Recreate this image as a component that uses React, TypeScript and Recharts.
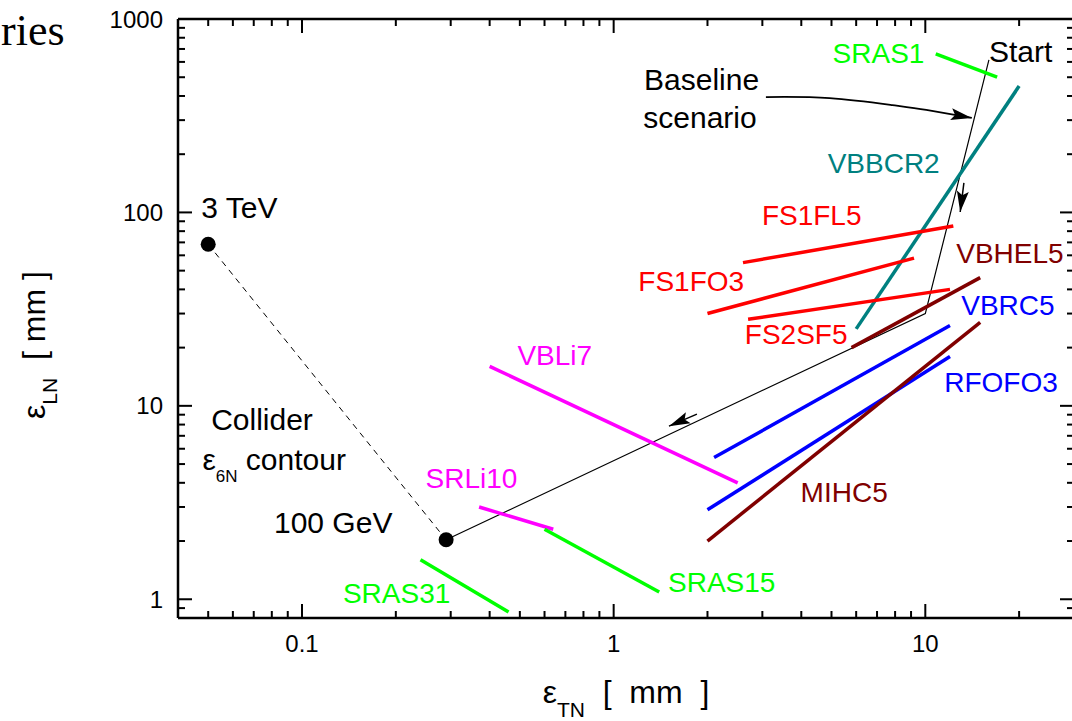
import React from 'react';
import { ComposedChart, Line, Scatter, XAxis, YAxis } from 'recharts';

const FONT = "'Liberation Sans', Arial, Helvetica, sans-serif";

// ---- tick values ----
const X_MAJOR = [0.1, 1, 10];
const X_TICKS = [0.05, 0.06, 0.07, 0.08, 0.09, 0.1, 0.2, 0.3, 0.4, 0.5, 0.6, 0.7, 0.8, 0.9, 1, 2, 3, 4, 5, 6, 7, 8, 9, 10, 20];
const Y_MAJOR = [1, 10, 100, 1000];
const Y_TICKS = [0.9, 1, 2, 3, 4, 5, 6, 7, 8, 9, 10, 20, 30, 40, 50, 60, 70, 80, 90, 100, 200, 300, 400, 500, 600, 700, 800, 900, 1000];

// ---- series (eps_TN, eps_LN) ----
const SRAS1 = [{ x: 10.8, y: 660 }, { x: 17, y: 500 }];
const VBBCR2 = [{ x: 6, y: 25 }, { x: 20, y: 450 }];
const FS1FL5 = [{ x: 2.6, y: 55 }, { x: 12.3, y: 85 }];
const FS1FO3 = [{ x: 2, y: 30 }, { x: 9.2, y: 58 }];
const FS2SF5 = [{ x: 2.7, y: 28 }, { x: 12, y: 40 }];
const VBHEL5 = [{ x: 5.8, y: 20 }, { x: 15, y: 46 }];
const VBRC5 = [{ x: 2.1, y: 5.4 }, { x: 12, y: 26 }];
const RFOFO3 = [{ x: 2, y: 2.9 }, { x: 12, y: 18 }];
const MIHC5 = [{ x: 2, y: 2 }, { x: 15, y: 27 }];
const VBLi7 = [{ x: 0.4, y: 16 }, { x: 2.5, y: 4 }];
const SRLi10 = [{ x: 0.37, y: 3.0 }, { x: 0.64, y: 2.3 }];
const SRAS15 = [{ x: 0.6, y: 2.3 }, { x: 1.4, y: 1.09 }];
const SRAS31 = [{ x: 0.24, y: 1.6 }, { x: 0.46, y: 0.86 }];

const BASELINE = [{ x: 16, y: 614 }, { x: 10, y: 30 }, { x: 0.29, y: 2.03 }];
const CONTOUR = [{ x: 0.05, y: 68.5 }, { x: 0.29, y: 2.03 }];
const ENDPOINTS = [{ x: 0.05, y: 68.5 }, { x: 0.29, y: 2.03 }];

const ARROW_CURVE = [{ x: 3.08, y: 395 }, { x: 4.93, y: 390 }, { x: 7.84, y: 359 }, { x: 10.07, y: 339 }, { x: 14.1, y: 308 }];
const ARROW_DOWN = [{ x: 13.3, y: 142 }, { x: 12.94, y: 100.5 }];
const ARROW_LEFT = [{ x: 1.85, y: 9.06 }, { x: 1.505, y: 7.85 }];

// ---- labels ----
const LABELS = [
  { text: 'SRAS1', x: 5.04, y: 593, key: 'SRAS1' },
  { text: 'VBBCR2', x: 4.86, y: 160, key: 'VBBCR2' },
  { text: 'FS1FL5', x: 2.99, y: 86, key: 'FS1FL5' },
  { text: 'FS1FO3', x: 1.2, y: 39.2, key: 'FS1FO3' },
  { text: 'FS2SF5', x: 2.635, y: 20.9, key: 'FS2SF5' },
  { text: 'VBHEL5', x: 12.57, y: 54.7, key: 'VBHEL5' },
  { text: 'VBRC5', x: 13.04, y: 29.5, key: 'VBRC5' },
  { text: 'RFOFO3', x: 11.5, y: 11.77, key: 'RFOFO3' },
  { text: 'MIHC5', x: 3.98, y: 3.18, key: 'MIHC5' },
  { text: 'VBLi7', x: 0.491, y: 16.24, key: 'VBLi7' },
  { text: 'SRLi10', x: 0.249, y: 3.75, key: 'SRLi10' },
  { text: 'SRAS15', x: 1.494, y: 1.087, key: 'SRAS15' },
  { text: 'SRAS31', x: 0.1353, y: 0.9535, key: 'SRAS31' },
];
const NOTES = [
  { text: 'Start', x: 16.0, y: 600 },
  { text: 'Baseline', x: 1.252, y: 430 },
  { text: 'scenario', x: 1.245, y: 273 },
  { text: '3 TeV', x: 0.0475, y: 93.5 },
  { text: 'Collider', x: 0.0511, y: 7.49 },
  { text: '100 GeV', x: 0.0813, y: 2.19 },
];
const CONTOUR_NOTE = [{ text: 'ε', sub: '6N', rest: ' contour', x: 0.0479, y: 4.65 }];

const GREEN = '#00ff00';
const TEAL = '#008080';
const RED = '#ff0000';
const MAROON = '#800000';
const BLUE = '#0000ff';
const MAGENTA = '#ff00ff';

const SERIES = [
  { name: 'SRAS1', data: SRAS1, color: GREEN },
  { name: 'VBBCR2', data: VBBCR2, color: TEAL },
  { name: 'FS1FL5', data: FS1FL5, color: RED },
  { name: 'FS1FO3', data: FS1FO3, color: RED },
  { name: 'FS2SF5', data: FS2SF5, color: RED },
  { name: 'VBHEL5', data: VBHEL5, color: MAROON },
  { name: 'VBRC5', data: VBRC5, color: BLUE },
  { name: 'RFOFO3', data: RFOFO3, color: BLUE },
  { name: 'MIHC5', data: MIHC5, color: MAROON },
  { name: 'VBLi7', data: VBLi7, color: MAGENTA },
  { name: 'SRLi10', data: SRLi10, color: MAGENTA },
  { name: 'SRAS15', data: SRAS15, color: GREEN },
  { name: 'SRAS31', data: SRAS31, color: GREEN },
];
const colorOf = (key: string) => (SERIES.find((s) => s.name === key) || { color: '#000' }).color;

const MAJ = 14;
const MIN = 7;

const BottomTick = (props: any) => {
  const { x, y, payload } = props;
  const v = payload.value;
  const major = X_MAJOR.includes(v);
  return (
    <g>
      <line x1={x} y1={y} x2={x} y2={y - (major ? MAJ : MIN)} stroke="#000" strokeWidth={2} />
      {major && (
        <text x={x} y={y + 34} textAnchor="middle" fontFamily={FONT} fontSize={24} fill="#000">
          {String(v)}
        </text>
      )}
    </g>
  );
};
const TopTick = (props: any) => {
  const { x, y, payload } = props;
  const major = X_MAJOR.includes(payload.value);
  return <line x1={x} y1={y} x2={x} y2={y + (major ? MAJ : MIN)} stroke="#000" strokeWidth={2} />;
};
const LeftTick = (props: any) => {
  const { x, y, payload } = props;
  const v = payload.value;
  const major = Y_MAJOR.includes(v);
  return (
    <g>
      <line x1={x} y1={y} x2={x + (major ? MAJ : MIN)} y2={y} stroke="#000" strokeWidth={2} />
      {major && (
        <text x={x - 15} y={y + 8.5} textAnchor="end" fontFamily={FONT} fontSize={24} fill="#000">
          {String(v)}
        </text>
      )}
    </g>
  );
};
const RightTick = (props: any) => {
  const { x, y, payload } = props;
  const major = Y_MAJOR.includes(payload.value);
  return <line x1={x} y1={y} x2={x - (major ? MAJ : MIN)} y2={y} stroke="#000" strokeWidth={2} />;
};

const XTitle = (props: any) => {
  const vb = props.viewBox || { x: 178, y: 618, width: 896, height: 103 };
  return (
    <text x={vb.x + vb.width / 2} y={vb.y + 85} textAnchor="middle" fontFamily={FONT} fontSize={32} fill="#000">
      ε<tspan fontSize={21} dy={14}>TN</tspan>
      <tspan dy={-14}>{'\u00a0 [\u00a0 mm\u00a0 ]'}</tspan>
    </text>
  );
};
const YTitle = (props: any) => {
  const vb = props.viewBox || { x: 0, y: 19, width: 178, height: 599 };
  const bx = vb.x + 45;
  const cy = vb.y + 326;
  return (
    <text x={bx} y={cy} transform={`rotate(-90, ${bx}, ${cy})`} textAnchor="middle" fontFamily={FONT} fontSize={32} fill="#000">
      ε<tspan fontSize={21} dy={12}>LN</tspan>
      <tspan dy={-12}>{'\u00a0 [ mm ]'}</tspan>
    </text>
  );
};

const SeriesLabel = (p: any) => (
  <text x={p.cx} y={p.cy} fontFamily={FONT} fontSize={28} fill={colorOf(p.payload.key)}>
    {p.payload.text}
  </text>
);
const NoteLabel = (p: any) => (
  <text x={p.cx} y={p.cy} fontFamily={FONT} fontSize={30} fill="#000">
    {p.payload.text}
  </text>
);
const ContourLabel = (p: any) => (
  <text x={p.cx} y={p.cy} fontFamily={FONT} fontSize={30} fill="#000">
    {p.payload.text}
    <tspan fontSize={17} dy={12}>{p.payload.sub}</tspan>
    <tspan dy={-12}>{p.payload.rest}</tspan>
  </text>
);
const BigDot = (p: any) => <circle cx={p.cx} cy={p.cy} r={7.5} fill="#000" />;

export default function App() {
  return (
    <div style={{ position: 'absolute', left: 0, top: 0, width: 1072, height: 721, overflow: 'hidden', background: '#fff' }}>
      <svg width={0} height={0} style={{ position: 'absolute' }}>
        <defs>
          <marker id="ah" markerUnits="userSpaceOnUse" markerWidth={22} markerHeight={13} viewBox="0 0 22 13" refX={21} refY={6.5} orient="auto">
            <path d="M0,0.5 L21,6.5 L0,12.5 L4,6.5 Z" fill="#000" />
          </marker>
        </defs>
      </svg>
      <svg width={100} height={60} style={{ position: 'absolute', left: 0, top: 0 }}>
        <text x={1} y={45} fontFamily="'Liberation Serif', 'Times New Roman', serif" fontSize={44} fill="#000">ries</text>
      </svg>
      <div style={{ position: 'absolute', left: 0, top: 0 }}>
        <ComposedChart width={1090} height={721} margin={{ top: 18, right: 0, bottom: 0, left: 0 }}>
          <XAxis
            dataKey="x"
            type="number"
            scale="log"
            domain={[0.04, 30]}
            allowDataOverflow
            ticks={X_TICKS}
            interval={0}
            tickLine={false}
            tickSize={0}
            tickMargin={0}
            tick={<BottomTick />}
            axisLine={{ stroke: '#000', strokeWidth: 2.5 }}
            height={103}
            label={<XTitle />}
          />
          <XAxis
            xAxisId="t"
            orientation="top"
            dataKey="x"
            type="number"
            scale="log"
            domain={[0.04, 30]}
            allowDataOverflow
            ticks={X_TICKS}
            interval={0}
            tickLine={false}
            tickSize={0}
            tickMargin={0}
            tick={<TopTick />}
            axisLine={{ stroke: '#000', strokeWidth: 2.5 }}
            height={1}
          />
          <YAxis
            dataKey="y"
            type="number"
            scale="log"
            domain={[0.8, 1000]}
            allowDataOverflow
            ticks={Y_TICKS}
            interval={0}
            tickLine={false}
            tickSize={0}
            tickMargin={0}
            tick={<LeftTick />}
            axisLine={{ stroke: '#000', strokeWidth: 2.5 }}
            width={178}
            label={<YTitle />}
          />
          <YAxis
            yAxisId="r"
            orientation="right"
            dataKey="y"
            type="number"
            scale="log"
            domain={[0.8, 1000]}
            allowDataOverflow
            ticks={Y_TICKS}
            interval={0}
            tickLine={false}
            tickSize={0}
            tickMargin={0}
            tick={<RightTick />}
            axisLine={{ stroke: '#000', strokeWidth: 2.5 }}
            width={16}
          />
          <Line xAxisId="t" yAxisId="r" data={ENDPOINTS} dataKey="y" stroke="none" dot={false} activeDot={false} isAnimationActive={false} legendType="none" />

          <Line data={CONTOUR} dataKey="y" type="linear" stroke="#000" strokeWidth={1} strokeDasharray="6 5" dot={false} activeDot={false} isAnimationActive={false} legendType="none" />
          <Line data={BASELINE} dataKey="y" type="linear" stroke="#000" strokeWidth={1.2} dot={false} activeDot={false} isAnimationActive={false} legendType="none" />

          {SERIES.map((s) => (
            <Line
              key={s.name}
              data={s.data}
              dataKey="y"
              type="linear"
              stroke={s.color}
              strokeWidth={3.5}
              dot={false}
              activeDot={false}
              isAnimationActive={false}
              legendType="none"
            />
          ))}

          <Line data={ARROW_CURVE} dataKey="y" type="natural" stroke="#000" strokeWidth={1.8} markerEnd="url(#ah)" dot={false} activeDot={false} isAnimationActive={false} legendType="none" />
          <Line data={ARROW_DOWN} dataKey="y" type="linear" stroke="#000" strokeWidth={1.5} markerEnd="url(#ah)" dot={false} activeDot={false} isAnimationActive={false} legendType="none" />
          <Line data={ARROW_LEFT} dataKey="y" type="linear" stroke="#000" strokeWidth={1.5} markerEnd="url(#ah)" dot={false} activeDot={false} isAnimationActive={false} legendType="none" />

          <Scatter data={ENDPOINTS} shape={BigDot} isAnimationActive={false} legendType="none" />
          <Scatter data={LABELS} shape={SeriesLabel} isAnimationActive={false} legendType="none" />
          <Scatter data={NOTES} shape={NoteLabel} isAnimationActive={false} legendType="none" />
          <Scatter data={CONTOUR_NOTE} shape={ContourLabel} isAnimationActive={false} legendType="none" />
        </ComposedChart>
      </div>
    </div>
  );
}
